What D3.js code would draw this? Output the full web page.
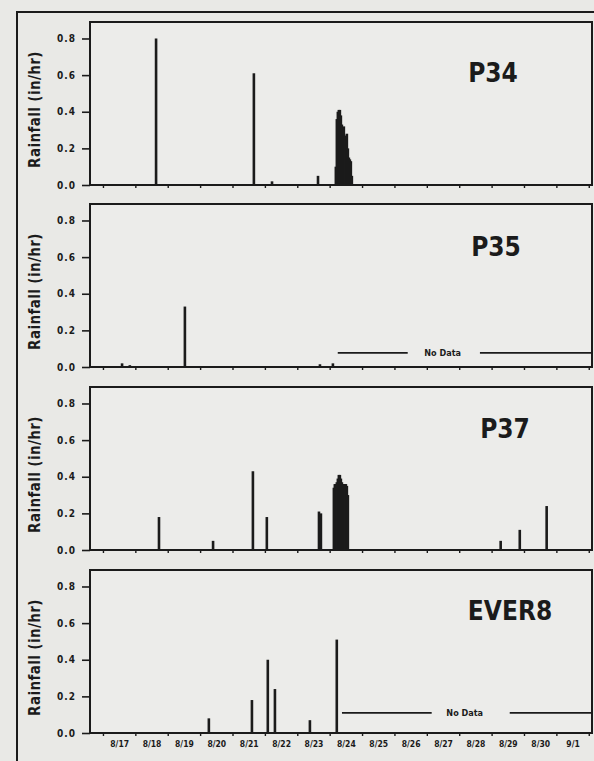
<!DOCTYPE html>
<html>
<head>
<meta charset="utf-8">
<script src="https://cdn.jsdelivr.net/npm/d3@7"></script>
<style>
  body { margin: 0; background: #e9e9e6; }
  svg { display: block; }
</style>
</head>
<body>
<div id="chart"></div>
<script>
// Station panels, top to bottom
const stations = ['P34', 'P35', 'P37', 'EVER8'];

// Day labels under the bottom panel (one per day, 8/17 onward)
const dayLabels = ['8/17', '8/18', '8/19', '8/20', '8/21', '8/22', '8/23', '8/24',
  '8/25', '8/26', '8/27', '8/28', '8/29', '8/30', '9/1'];
const yTicks = [0.0, 0.2, 0.4, 0.6, 0.8];

// Rainfall (in/hr), time as decimal day of August
const p34Day = [18.64, 21.66, 22.22, 23.64,
  24.191, 24.222, 24.253, 24.284, 24.315, 24.346, 24.377, 24.407, 24.438,
  24.469, 24.500, 24.531, 24.562, 24.593, 24.623, 24.654, 24.685];
const p34Rain = [0.80, 0.61, 0.02, 0.05,
  0.10, 0.36, 0.40, 0.41, 0.41, 0.38, 0.33, 0.30, 0.32,
  0.27, 0.25, 0.28, 0.20, 0.15, 0.14, 0.13, 0.05];

const p35Day = [17.59, 17.83, 19.53, 23.70, 24.10];
const p35Rain = [0.02, 0.01, 0.33, 0.015, 0.02];

const p37Day = [18.73, 20.40, 21.63, 22.06, 23.67, 23.73,
  24.130, 24.160, 24.191, 24.222, 24.253, 24.284, 24.315, 24.346, 24.377,
  24.407, 24.438, 24.469, 24.500, 24.531, 24.562,
  29.28, 29.87, 30.70];
const p37Rain = [0.18, 0.05, 0.43, 0.18, 0.21, 0.20,
  0.34, 0.36, 0.36, 0.37, 0.39, 0.41, 0.41, 0.39, 0.37,
  0.36, 0.36, 0.36, 0.36, 0.35, 0.30,
  0.05, 0.11, 0.24];

const ever8Day = [20.27, 21.60, 22.09, 22.31, 23.39, 24.22];
const ever8Rain = [0.08, 0.18, 0.40, 0.24, 0.07, 0.51];

// "No Data" gaps: [line start, line end, label at, line start, line end] and level
const noDataSpan = [null, [24.25, 26.41, 27.49, 28.64, 32.1], null, [24.38, 27.15, 28.17, 29.56, 32.1]];
const noDataLevel = [null, 0.077, null, 0.11];

const series = [
  { day: p34Day, rain: p34Rain },
  { day: p35Day, rain: p35Rain },
  { day: p37Day, rain: p37Rain },
  { day: ever8Day, rain: ever8Rain },
];

const W = 594, H = 761;
const left = 90, plotW = 502, plotH = 163;
const tops = [22, 204, 387, 570];
const titleX = [493, 496, 505, 510];
const titleDy = [60, 52, 51, 50];
const ink = '#1b1b1b';
const cond = "'DejaVu Sans Condensed', 'DejaVu Sans', sans-serif";

const svg = d3.select('#chart').append('svg')
  .attr('width', W).attr('height', H);

// outer frame (runs off the right/bottom edge like the scan)
svg.append('rect')
  .attr('x', 17).attr('y', 12).attr('width', 620).attr('height', 780)
  .attr('fill', 'none').attr('stroke', ink).attr('stroke-width', 2);

const x = d3.scaleLinear().domain([16.6, 32.1]).range([0, plotW]);
const y = d3.scaleLinear().domain([0, 0.89]).range([plotH, 0]);

stations.forEach((name, i) => {
  const g = svg.append('g').attr('transform', `translate(${left},${tops[i]})`);

  g.append('rect')
    .attr('width', plotW).attr('height', plotH)
    .attr('fill', '#ececea').attr('stroke', ink).attr('stroke-width', 2);

  // y axis
  g.append('g')
    .call(d3.axisLeft(y).tickValues(yTicks).tickFormat(d3.format('.1f')).tickSize(8).tickPadding(6))
    .call(a => a.select('.domain').remove())
    .call(a => a.selectAll('.tick line').attr('stroke', ink).attr('stroke-width', 1.6))
    .call(a => a.selectAll('.tick text').attr('fill', ink)
      .attr('font-family', cond).attr('font-weight', 'bold')
      .attr('font-size', '10px').attr('letter-spacing', '1px'));

  // day ticks on the bottom edge
  g.append('g').attr('transform', `translate(0,${plotH})`)
    .call(d3.axisBottom(x).tickValues(d3.range(17, 33)).tickSize(3).tickFormat(''))
    .call(a => a.select('.domain').remove())
    .call(a => a.selectAll('.tick line').attr('stroke', ink).attr('stroke-width', 1.4));

  if (i === stations.length - 1) {
    g.append('g').attr('transform', `translate(0,${plotH})`)
      .call(d3.axisBottom(x).tickValues(dayLabels.map((_, k) => 17.5 + k))
        .tickFormat((d, k) => dayLabels[k]).tickSize(0).tickPadding(8))
      .call(a => a.select('.domain').remove())
      .call(a => a.selectAll('.tick text').attr('fill', ink)
        .attr('font-family', cond).attr('font-weight', 'bold').attr('font-size', '8.5px'));
  }

  // y title
  g.append('text')
    .attr('transform', `translate(${35 - left},${plotH / 2 + 6}) rotate(-90)`)
    .attr('text-anchor', 'middle').attr('dy', '0.35em')
    .attr('fill', ink).attr('font-family', cond).attr('font-weight', 'bold')
    .attr('font-size', '15px').attr('letter-spacing', '0.4px')
    .text('Rainfall (in/hr)');

  // bars
  const s = series[i];
  const rows = s.day.map((d, k) => ({ day: d, rain: s.rain[k] }));
  g.selectAll('rect.bar').data(rows).join('rect')
    .attr('class', 'bar')
    .attr('x', d => x(d.day) - 1.3).attr('width', 2.6)
    .attr('y', d => y(d.rain)).attr('height', d => plotH - y(d.rain))
    .attr('fill', ink);

  // no-data marker
  if (noDataSpan[i]) {
    const [a0, a1, lab, b0, b1] = noDataSpan[i];
    const ly = y(noDataLevel[i]);
    [[a0, a1], [b0, b1]].forEach(([p, q]) => {
      g.append('line')
        .attr('x1', x(p)).attr('x2', Math.min(x(q), plotW)).attr('y1', ly).attr('y2', ly)
        .attr('stroke', ink).attr('stroke-width', 1.6);
    });
    g.append('text')
      .attr('x', x(lab)).attr('y', ly).attr('dy', '0.35em')
      .attr('text-anchor', 'middle').attr('fill', ink)
      .attr('font-family', cond).attr('font-weight', 'bold').attr('font-size', '9px')
      .text('No Data');
  }

  // station title
  g.append('text')
    .attr('x', titleX[i] - left).attr('y', titleDy[i])
    .attr('text-anchor', 'middle').attr('fill', ink)
    .attr('font-family', cond).attr('font-weight', 'bold').attr('font-size', '26px')
    .text(name);
});
</script>
</body>
</html>
